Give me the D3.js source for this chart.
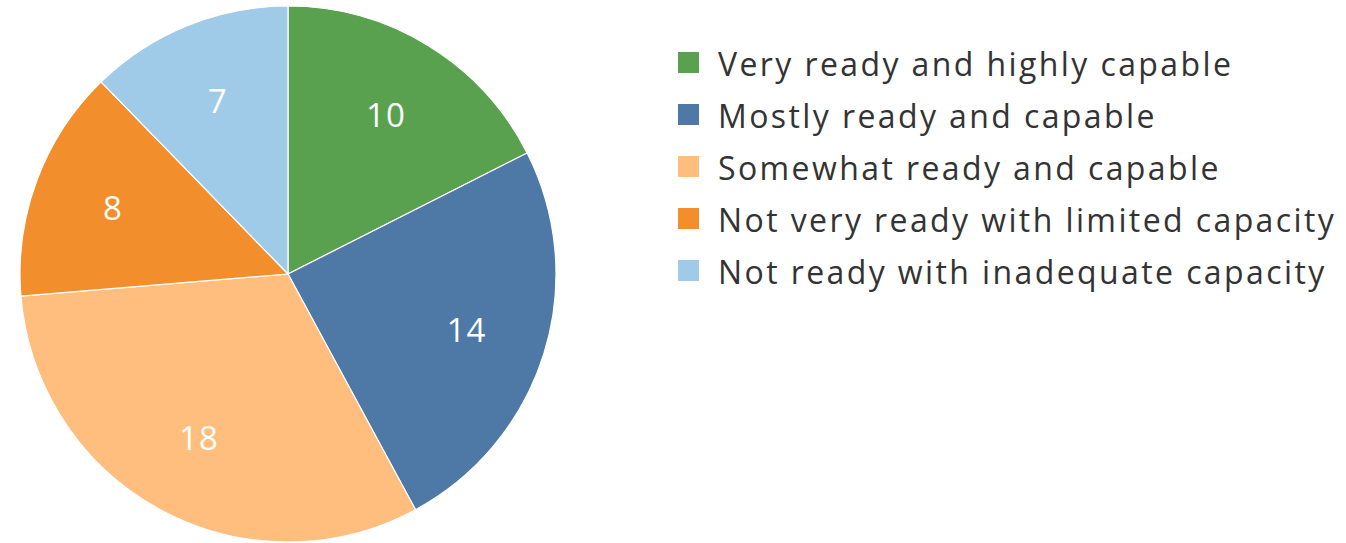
<!DOCTYPE html>
<html>
<head>
<meta charset="utf-8">
<script src="https://cdn.jsdelivr.net/npm/d3@7"></script>
<style>
  html, body { margin: 0; padding: 0; background: #fff; }
  svg { display: block; }
</style>
</head>
<body>
<svg id="chart" width="1346" height="543"></svg>
<script>
// Readiness categories and respondent counts
const categories = [
  "Very ready and highly capable",
  "Mostly ready and capable",
  "Somewhat ready and capable",
  "Not very ready with limited capacity",
  "Not ready with inadequate capacity"
];
const counts = [10, 14, 18, 8, 7];
const colors = ["#59A14F", "#4E79A7", "#FFBE7D", "#F28E2B", "#A0CBE8"];

const data = categories.map((c, i) => ({ category: c, value: counts[i], color: colors[i] }));

const svg = d3.select("#chart");
const cx = 288, cy = 274, radius = 268;
const fontFamily = "'Open Sans', 'Noto Sans', sans-serif";

const pie = d3.pie().value(d => d.value).sort(null);
const arc = d3.arc().innerRadius(0).outerRadius(radius);
const labelArc = d3.arc().innerRadius(187).outerRadius(187);

const g = svg.append("g").attr("transform", `translate(${cx},${cy})`);
const arcs = pie(data);

g.selectAll("path.slice")
  .data(arcs)
  .join("path")
  .attr("class", "slice")
  .attr("d", arc)
  .attr("fill", d => d.data.color)
  .attr("stroke", "#fff")
  .attr("stroke-width", 1.2);

g.selectAll("text.value")
  .data(arcs)
  .join("text")
  .attr("class", "value")
  .attr("transform", d => `translate(${labelArc.centroid(d)})`)
  .attr("text-anchor", "middle")
  .attr("dy", "0.36em")
  .attr("fill", "#fff")
  .style("font-family", fontFamily)
  .style("font-size", "33px")
  .style("letter-spacing", "1px")
  .text(d => d.data.value);

// Legend
const legend = svg.append("g").attr("transform", "translate(678,76)");
const rowH = 52;
const rows = legend.selectAll("g.row")
  .data(data)
  .join("g")
  .attr("class", "row")
  .attr("transform", (d, i) => `translate(0,${i * rowH})`);

rows.append("rect")
  .attr("x", 0)
  .attr("y", -24)
  .attr("width", 21)
  .attr("height", 21)
  .attr("fill", d => d.color);

rows.append("text")
  .attr("x", 40)
  .attr("y", 0)
  .attr("fill", "#333")
  .style("font-family", fontFamily)
  .style("font-size", "32px")
  .style("letter-spacing", "2.4px")
  .text(d => d.category);
</script>
</body>
</html>
